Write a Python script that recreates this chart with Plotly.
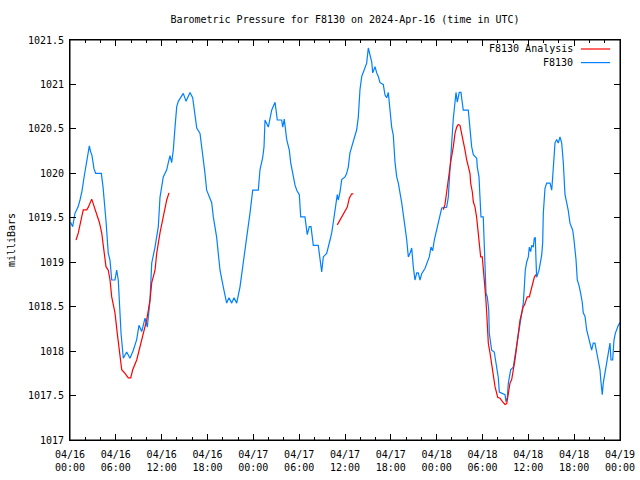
import pandas as pd
import plotly.graph_objects as go

title = "Barometric Pressure for F8130 on 2024-Apr-16 (time in UTC)"
start = "2024-04-16 00:00"
end = "2024-04-19 00:00"
y_label = "milliBars"
obs_name = "F8130"
ana_name = "F8130 Analysis"

# observed series (hours after start, mb)
obs_hours = [0.07, 0.35, 0.65, 1.05, 1.31, 1.57, 1.83, 2.09, 2.29, 2.53, 2.68, 2.88, 3.14, 3.36, 4.10,
             4.32, 4.71, 5.01, 5.24, 5.46, 5.89, 6.11, 6.32, 6.55, 6.68, 6.98, 7.42, 7.85, 8.29, 8.73,
             9.03, 9.39, 9.82, 10.12, 10.25, 10.47, 10.70, 11.13, 11.56, 11.78, 12.21, 12.66, 12.87,
             13.09, 13.31, 13.52, 13.75, 13.97, 14.18, 14.83, 15.19, 15.71, 16.06, 16.36, 16.59, 17.02,
             17.24, 17.45, 17.67, 17.89, 18.55, 18.76, 19.20, 19.41, 19.64, 20.07, 20.51, 20.81, 21.17,
             21.47, 21.82, 22.25, 22.69, 23.13, 23.56, 23.92, 24.65, 24.87, 25.23, 25.40, 25.53, 25.96,
             26.40, 26.84, 27.14, 27.71, 27.85, 28.05, 28.37, 28.71, 28.89, 29.23, 29.45, 29.68, 30.02,
             30.20, 30.76, 31.06, 31.33, 31.55, 31.85, 32.50, 32.73, 32.95, 33.16, 33.60, 34.04, 34.26,
             34.47, 34.69, 34.99, 35.12, 35.35, 35.57, 36.00, 36.22, 36.43, 36.65, 36.88, 37.31, 37.53,
             37.74, 37.96, 38.19, 38.62, 38.84, 39.05, 39.27, 39.50, 39.63, 39.93, 40.15, 40.36, 40.58,
             41.01, 41.24, 41.46, 41.67, 41.89, 42.11, 42.32, 42.55, 42.77, 42.98, 43.42, 43.63, 43.85,
             44.08, 44.29, 44.51, 44.73, 44.94, 45.16, 45.39, 45.59, 45.82, 46.04, 46.47, 46.70, 47.03,
             47.26, 47.48, 47.69, 48.00, 48.21, 48.44, 48.66, 49.31, 49.52, 49.74, 49.97, 50.18, 50.40,
             50.53, 50.70, 50.96, 51.18, 51.35, 51.48, 52.14, 52.27, 52.45, 52.58, 52.80, 53.24, 53.32,
             53.54, 53.67, 53.80, 54.10, 54.20, 54.24, 54.33, 54.46, 54.63, 54.82, 54.89, 55.20, 55.54,
             55.86, 56.07, 56.20, 56.95, 57.07, 57.25, 57.38, 57.51, 57.69, 58.03, 58.39, 58.69, 58.91,
             59.13, 59.34, 59.47, 59.60, 59.78, 60.00, 60.13, 60.31, 60.44, 60.65, 60.78, 60.91, 61.00,
             61.09, 61.40, 61.75, 61.88, 61.96, 62.18, 62.40, 62.84, 63.06, 63.19, 63.49, 63.71, 63.92,
             64.14, 64.37, 64.58, 64.80, 65.02, 65.23, 65.45, 65.81, 65.98, 66.11, 66.24, 66.41, 66.63,
             66.85, 67.06, 67.19, 67.42, 67.64, 68.07, 68.29, 68.50, 68.72, 68.94, 69.38, 69.51, 69.68,
             69.81, 70.04, 70.26, 70.47, 70.69, 70.82, 71.04, 71.21, 71.39, 71.78, 72.00]
obs_mb = [1019.45, 1019.40, 1019.55, 1019.62, 1019.70, 1019.80, 1019.95, 1020.10, 1020.20, 1020.31, 1020.25,
          1020.20, 1020.05, 1020.00, 1020.00, 1019.85, 1019.47, 1019.10, 1019.02, 1018.80, 1018.80, 1018.91,
          1018.80, 1018.46, 1018.20, 1017.92, 1017.99, 1017.92, 1018.01, 1018.13, 1018.29, 1018.22, 1018.37,
          1018.27, 1018.41, 1018.57, 1018.99, 1019.17, 1019.40, 1019.73, 1019.96, 1020.04, 1020.12, 1020.20,
          1020.12, 1020.26, 1020.52, 1020.75, 1020.81, 1020.90, 1020.81, 1020.91, 1020.85, 1020.68, 1020.51,
          1020.45, 1020.30, 1020.18, 1020.00, 1019.81, 1019.67, 1019.51, 1019.28, 1019.10, 1018.91, 1018.72,
          1018.54, 1018.60, 1018.54, 1018.60, 1018.54, 1018.72, 1019.03, 1019.28, 1019.55, 1019.81, 1019.81,
          1020.04, 1020.18, 1020.30, 1020.60, 1020.52, 1020.71, 1020.80, 1020.60, 1020.60, 1020.52, 1020.61,
          1020.38, 1020.26, 1020.12, 1019.96, 1019.87, 1019.81, 1019.76, 1019.51, 1019.51, 1019.31, 1019.40,
          1019.40, 1019.19, 1019.19, 1019.06, 1018.89, 1019.06, 1019.10, 1019.25, 1019.33, 1019.45, 1019.59,
          1019.76, 1019.70, 1019.79, 1019.93, 1019.96, 1020.00, 1020.07, 1020.23, 1020.30, 1020.41, 1020.49,
          1020.63, 1020.94, 1021.09, 1021.18, 1021.24, 1021.41, 1021.33, 1021.25, 1021.13, 1021.20, 1021.13,
          1021.09, 1021.02, 1021.00, 1020.88, 1020.85, 1020.91, 1020.68, 1020.52, 1020.43, 1020.12, 1019.96,
          1019.89, 1019.67, 1019.51, 1019.40, 1019.25, 1019.06, 1019.10, 1019.16, 1018.95, 1018.80, 1018.88,
          1018.88, 1018.80, 1018.87, 1018.93, 1018.99, 1019.06, 1019.17, 1019.13, 1019.25, 1019.36, 1019.47,
          1019.55, 1019.61, 1019.62, 1019.73, 1020.04, 1020.38, 1020.62, 1020.80, 1020.91, 1020.80, 1020.91,
          1020.91, 1020.80, 1020.71, 1020.71, 1020.60, 1020.40, 1020.30, 1020.21, 1020.17, 1020.07, 1019.96,
          1019.73, 1019.51, 1019.51, 1019.28, 1019.03, 1018.83, 1018.65, 1018.61, 1018.46, 1018.20, 1018.01,
          1017.99, 1017.82, 1017.70, 1017.54, 1017.51, 1017.43, 1017.48, 1017.64, 1017.71, 1017.79, 1017.82,
          1018.01, 1018.16, 1018.27, 1018.43, 1018.54, 1018.71, 1018.91, 1019.00, 1019.06, 1019.17, 1019.12,
          1019.19, 1019.17, 1019.27, 1019.28, 1019.03, 1018.83, 1018.91, 1019.08, 1019.22, 1019.55, 1019.83,
          1019.89, 1019.89, 1019.81, 1019.96, 1020.34, 1020.38, 1020.34, 1020.41, 1020.34, 1020.12, 1019.76,
          1019.67, 1019.58, 1019.44, 1019.36, 1019.25, 1019.14, 1019.03, 1018.80, 1018.74, 1018.65, 1018.55,
          1018.43, 1018.39, 1018.24, 1018.09, 1018.01, 1018.09, 1018.09, 1017.99, 1017.79, 1017.65, 1017.51,
          1017.64, 1017.77, 1017.88, 1017.98, 1018.09, 1017.90, 1017.90, 1018.12, 1018.20, 1018.29, 1018.32]

# analysis series, three segments
ana1_hours = [0.79, 1.09, 1.53, 1.74, 2.19, 2.40, 2.84, 3.05, 3.50, 3.84, 4.15, 4.28, 4.49, 4.71, 5.01, 5.24,
              5.46, 5.67, 5.89, 6.19, 6.55, 6.77, 7.20, 7.63, 7.95, 8.21, 8.73, 9.16, 9.60, 10.04, 10.47,
              10.70, 11.13, 11.35, 11.78, 12.21, 12.66, 12.96]
ana1_mb = [1019.25, 1019.33, 1019.51, 1019.59, 1019.59, 1019.62, 1019.71, 1019.66, 1019.53, 1019.45, 1019.33,
           1019.25, 1019.06, 1018.95, 1018.91, 1018.80, 1018.61, 1018.50, 1018.43, 1018.20, 1017.93, 1017.79,
           1017.75, 1017.70, 1017.70, 1017.79, 1017.90, 1018.05, 1018.20, 1018.35, 1018.57, 1018.77, 1018.91,
           1019.10, 1019.33, 1019.51, 1019.70, 1019.78]
ana2_hours = [34.99, 35.57, 36.00, 36.30, 36.56, 36.88, 37.09]
ana2_mb = [1019.42, 1019.51, 1019.57, 1019.62, 1019.72, 1019.77, 1019.77]
ana3_hours = [48.87, 49.09, 49.31, 49.52, 49.74, 49.84, 50.18, 50.40, 50.62, 50.83, 51.05, 51.28, 51.48, 51.71,
              51.93, 52.14, 52.36, 52.45, 52.67, 52.80, 53.02, 53.24, 53.37, 53.58, 53.76, 53.97, 54.10, 54.24,
              54.42, 54.55, 54.76, 54.98, 55.20, 55.41, 55.64, 55.99, 56.29, 56.64, 56.95, 57.17, 57.38, 57.60,
              57.82, 58.03, 58.25, 58.47, 58.69, 58.91, 59.34, 59.50, 59.69, 59.86, 60.13, 60.31, 60.57, 60.78,
              61.00]
ana3_mb = [1019.59, 1019.65, 1019.79, 1019.93, 1020.04, 1020.13, 1020.30, 1020.45, 1020.52, 1020.55, 1020.54,
           1020.45, 1020.38, 1020.26, 1020.15, 1020.07, 1020.00, 1019.89, 1019.79, 1019.68, 1019.62, 1019.50,
           1019.40, 1019.23, 1019.06, 1019.06, 1018.95, 1018.80, 1018.61, 1018.43, 1018.09, 1017.98, 1017.84,
           1017.71, 1017.60, 1017.48, 1017.47, 1017.43, 1017.40, 1017.41, 1017.53, 1017.64, 1017.68, 1017.77,
           1017.90, 1018.05, 1018.20, 1018.35, 1018.50, 1018.52, 1018.57, 1018.61, 1018.61, 1018.67, 1018.77,
           1018.83, 1018.86]

y_ticks = [1017, 1017.5, 1018, 1018.5, 1019, 1019.5, 1020, 1020.5, 1021, 1021.5]
y_tick_labels = ["1017", "1017.5", "1018", "1018.5", "1019", "1019.5", "1020", "1020.5", "1021", "1021.5"]

base = pd.Timestamp(start)


def to_time(hours):
    return [base + pd.Timedelta(hours=h) for h in hours]


ana_x = to_time(ana1_hours) + [None] + to_time(ana2_hours) + [None] + to_time(ana3_hours)
ana_y = ana1_mb + [None] + ana2_mb + [None] + ana3_mb

RED = "#ff0000"
BLUE = "#0080ff"
FONT = "DejaVu Sans Mono"

fig = go.Figure()
fig.add_trace(go.Scatter(x=to_time(obs_hours), y=obs_mb, mode="lines", name=obs_name,
                         line=dict(color=BLUE, width=1.2), showlegend=False))
fig.add_trace(go.Scatter(x=ana_x, y=ana_y, mode="lines", name=ana_name, connectgaps=False,
                         line=dict(color=RED, width=1.2), showlegend=False))

# gnuplot-style key: text right-aligned, sample line on the right
key_entries = [(ana_name, RED), (obs_name, BLUE)]
for i, (label, color) in enumerate(key_entries):
    ky = 0.9775 - i * 0.034
    fig.add_annotation(xref="paper", yref="paper", x=0.918, y=ky, text=label, showarrow=False,
                       xanchor="right", yanchor="middle", font=dict(family=FONT, size=10, color="black"))
    fig.add_shape(type="line", xref="paper", yref="paper", x0=0.929, x1=0.982, y0=ky, y1=ky,
                  line=dict(color=color, width=1.2))

# plot frame
fig.add_shape(type="rect", xref="paper", yref="paper", x0=0, x1=1, y0=0, y1=1,
              line=dict(color="black", width=1), fillcolor="rgba(0,0,0,0)", layer="above")

fig.update_layout(
    width=640, height=480,
    margin=dict(l=70, r=20, t=40, b=40, autoexpand=False),
    paper_bgcolor="white", plot_bgcolor="white",
    font=dict(family=FONT, size=10, color="black"),
    title=dict(text=title, x=0.5, xref="paper", xanchor="center", yref="container", y=0.96,
               yanchor="middle", automargin=False, font=dict(family=FONT, size=10, color="black")),
    showlegend=False,
)
fig.update_xaxes(
    type="date", range=[start, end], automargin=False,
    dtick=6 * 3600 * 1000, tick0=start, tickformat="%m/%d<br>%H:%M",
    ticks="inside", ticklen=6, tickwidth=1, tickcolor="black", ticklabelstandoff=5,
    minor=dict(dtick=2 * 3600 * 1000, tick0=start, ticks="inside", ticklen=3, tickcolor="black", showgrid=False),
    showline=True, linecolor="black", linewidth=1, mirror="allticks",
    showgrid=False, zeroline=False, tickfont=dict(family=FONT, size=10),
)
fig.update_yaxes(
    range=[1017, 1021.5], tickvals=y_ticks, ticktext=y_tick_labels, automargin=False,
    ticks="inside", ticklen=6, tickwidth=1, tickcolor="black", ticklabelstandoff=3,
    showline=True, linecolor="black", linewidth=1, mirror="allticks",
    showgrid=False, zeroline=False, tickfont=dict(family=FONT, size=10),
    title=dict(text=y_label, font=dict(family=FONT, size=10), standoff=10),
)

fig.write_html("out.html", config={"displayModeBar": False, "staticPlot": True},
               post_script="document.body.style.margin='0';document.body.style.overflow='hidden';")
